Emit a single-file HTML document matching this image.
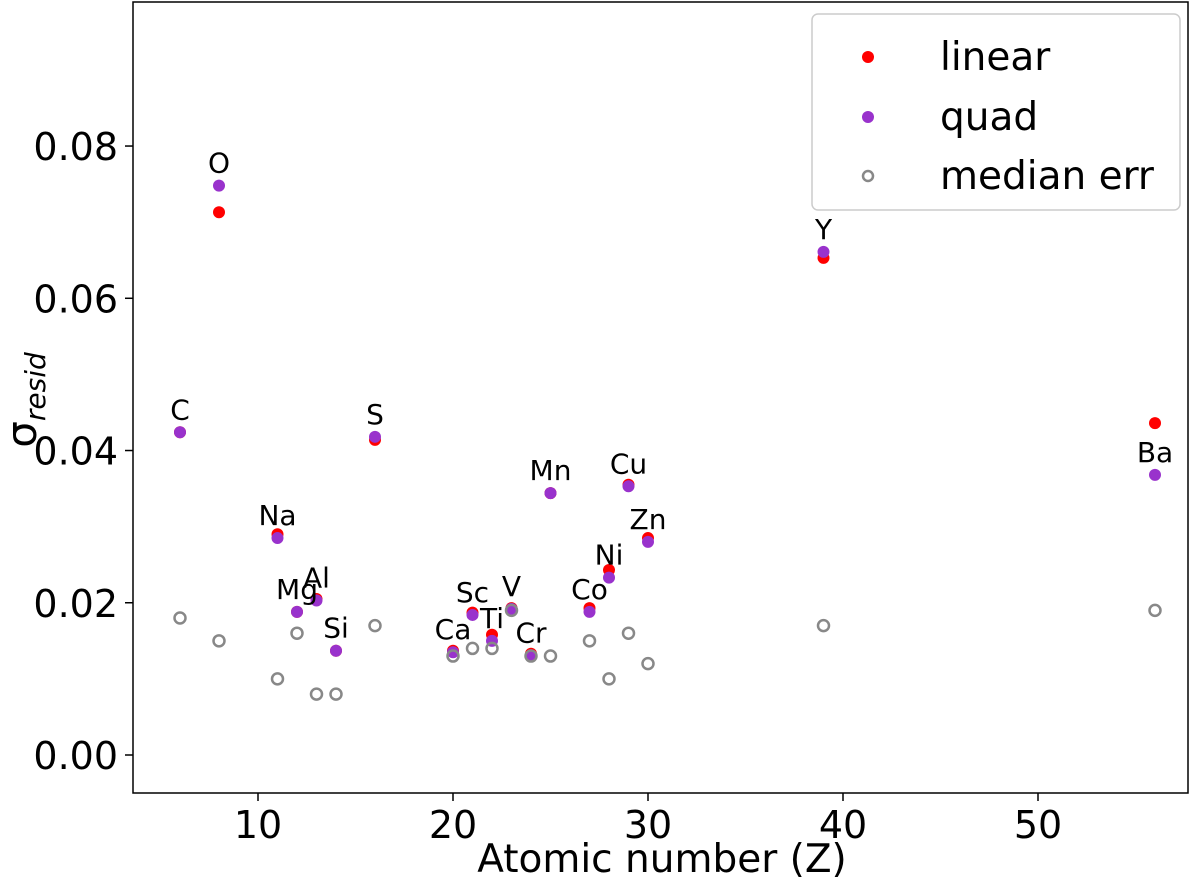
<!DOCTYPE html>
<html><head><meta charset="utf-8"><style>
html,body{margin:0;padding:0;background:#fff}
svg{display:block;font-family:"DejaVu Sans","Liberation Sans",sans-serif}
</style></head><body>
<svg id="chart" width="1200" height="882">
<rect x="133" y="2" width="1055" height="791" fill="none" stroke="#000" stroke-width="1.5"/>
<g id="axes"></g><g id="marks"></g>
<text x="662" y="872" font-size="39" text-anchor="middle">Atomic number (Z)</text>
<text transform="translate(36,400) rotate(-90)" font-size="42" text-anchor="middle">σ<tspan font-size="28" font-style="italic" dy="9">resid</tspan></text>
<g>
<rect x="812" y="14" width="368" height="196" rx="6" fill="#fff" stroke="#ccc" stroke-width="1.5"/>
<circle cx="868" cy="57" r="6" fill="#ff0000"/>
<text x="940" y="70" font-size="39">linear</text>
<circle cx="868" cy="117" r="6" fill="#9932cc"/>
<text x="940" y="130" font-size="39">quad</text>
<circle cx="868" cy="176" r="5" fill="none" stroke="#888" stroke-width="2.5"/>
<text x="940" y="189" font-size="39">median err</text>
</g>
</svg>
<script>
const elements=["C","O","Na","Mg","Al","Si","S","Ca","Sc","Ti","V","Cr","Mn","Co","Ni","Cu","Zn","Y","Ba"];
const zValues=[6,8,11,12,13,14,16,20,21,22,23,24,25,27,28,29,30,39,56];
const linearValues=[0.0424,0.0713,0.029,0.0188,0.0205,0.0137,0.0414,0.0137,0.0187,0.0158,0.0193,0.0133,0.0344,0.0193,0.0243,0.0355,0.0285,0.0653,0.0436];
const quadValues=[0.0424,0.0748,0.0285,0.0188,0.0203,0.0137,0.0418,0.0135,0.0184,0.015,0.0192,0.0131,0.0344,0.0188,0.0233,0.0353,0.028,0.0661,0.0368];
const medianValues=[0.018,0.015,0.010,0.016,0.008,0.008,0.017,0.013,0.014,0.014,0.019,0.013,0.013,0.015,0.010,0.016,0.012,0.017,0.019];
const xTicks=[10,20,30,40,50];
const yTicks=[0,0.02,0.04,0.06,0.08];
const yTickLabels=["0.00","0.02","0.04","0.06","0.08"];
const NS="http://www.w3.org/2000/svg";
const xs=z=>63+19.5*z;
const ys=v=>755-v*7612;
function mk(tag,attrs,parent){const e=document.createElementNS(NS,tag);for(const k in attrs)e.setAttribute(k,attrs[k]);parent.appendChild(e);return e;}
const axes=document.getElementById('axes'),marks=document.getElementById('marks');
xTicks.forEach((t,i)=>{
  const l=mk('line',{x1:xs(t),x2:xs(t),y1:793,y2:801,stroke:'#000','stroke-width':1.5},axes);
  
  
  const tx=mk('text',{x:xs(t),y:838,'font-size':38,'text-anchor':'middle'},axes);tx.textContent=t;
  
  
});
yTicks.forEach((t,i)=>{
  const l=mk('line',{x1:125,x2:133,y1:ys(t),y2:ys(t),stroke:'#000','stroke-width':1.5},axes);
  
  
  const tx=mk('text',{x:118,y:ys(t)+14,'font-size':38,'text-anchor':'end'},axes);tx.textContent=yTickLabels[i];
  
  
});
zValues.forEach((z,i)=>{
  const c=mk('circle',{cx:xs(z),cy:ys(linearValues[i]),r:6,fill:'#ff0000'},marks);
  
  
});
zValues.forEach((z,i)=>{
  const c=mk('circle',{cx:xs(z),cy:ys(quadValues[i]),r:6,fill:'#9932cc'},marks);
  
  
});
zValues.forEach((z,i)=>{
  const c=mk('circle',{cx:xs(z),cy:ys(medianValues[i]),r:5.5,fill:'none',stroke:'#888','stroke-width':2.5},marks);
  
  
});
zValues.forEach((z,i)=>{
  const t=mk('text',{x:xs(z),y:ys(quadValues[i])-13,'font-size':28,'text-anchor':'middle'},marks);t.textContent=elements[i];
  
  
});
</script>
</body></html>
